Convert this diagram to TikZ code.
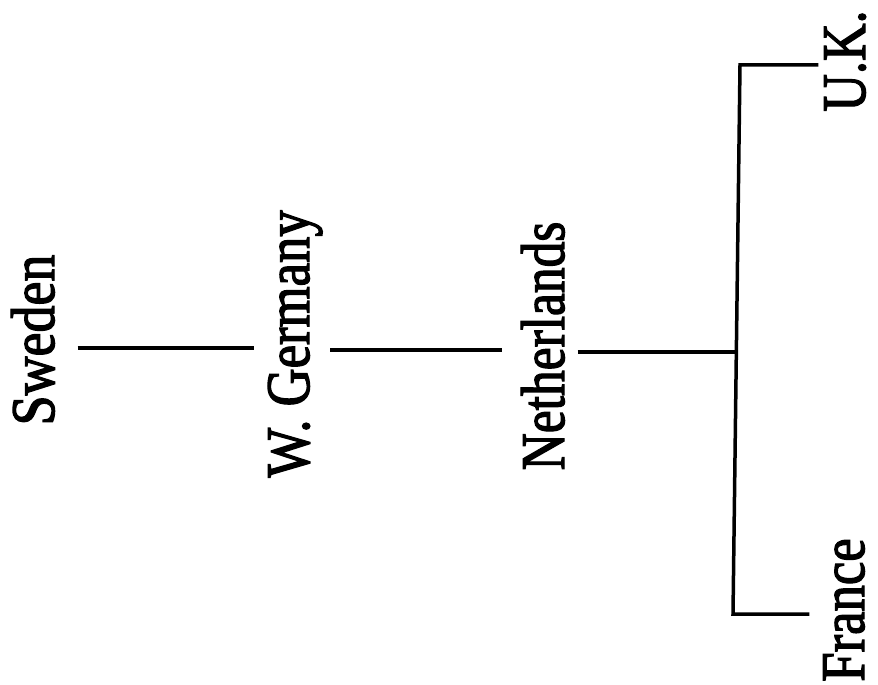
\documentclass[tikz,border=0pt]{standalone}
\usepackage{fontspec}
\setmainfont[FakeBold=2.2]{Liberation Serif}
\usepackage{graphicx}
\usetikzlibrary{calc}
\tikzset{
  country/.style={rotate=90, anchor=base, inner sep=0pt, outer sep=0pt,
    font=\fontsize{62}{62}\selectfont},
  conn/.style={line width=3.5pt, line cap=butt, line join=miter}
}
\begin{document}
\begin{tikzpicture}[x=1pt, y=-1pt]
  \useasboundingbox[fill=white] (0,0) rectangle (878,685);
  \node[country] (sweden) at (54,340) {\scalebox{0.87}[1]{Sweden}};
  \node[country] (wg) at (309,344) {\scalebox{0.85}[1]{W. Germany}};
  \node[country] (nl) at (564,346) {\scalebox{0.83}[1]{Netherlands}};
  \node[country] (uk) at (865,61) {\scalebox{0.84}[1]{U.K.}};
  \node[country] (fr) at (864,610) {\scalebox{0.85}[1]{France}};
  \coordinate (tc) at (740,65);
  \coordinate (bc) at (733,614);
  \coordinate (jn) at (736.5,352);
  \draw[conn] ($(sweden.south)+(23,8)$) -- ($(wg.north)+(-14,4)$);
  \draw[conn] ($(wg.south)+(8,6)$) -- ($(nl.north)+(-19,4)$);
  \draw[conn] ($(nl.south)+(13,6)$) -- (jn);
  \draw[conn] ($(uk.north)+(-6,4)$) -- (tc) -- (bc) -- ($(fr.north)+(-14,4)$);
\end{tikzpicture}
\end{document}
